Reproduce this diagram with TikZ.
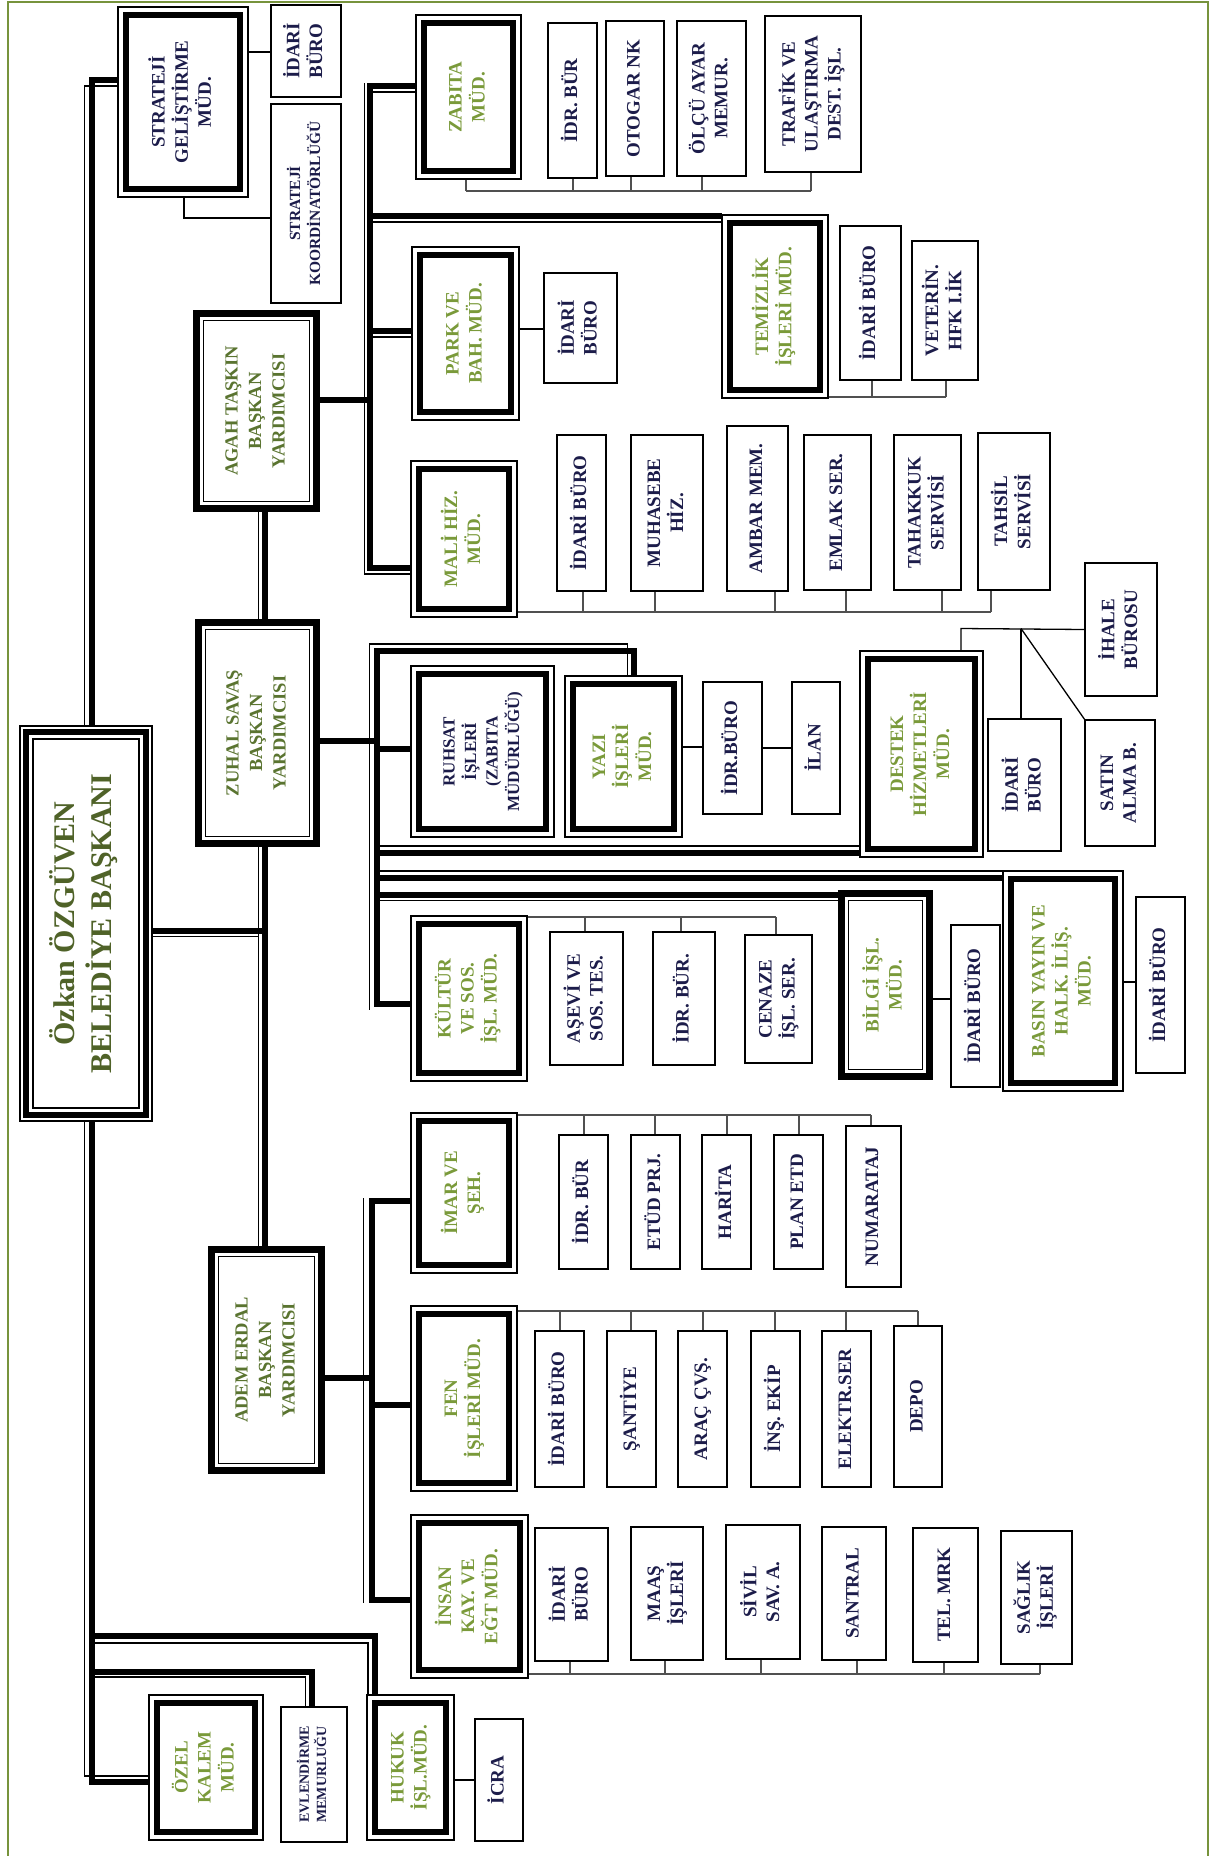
\documentclass[tikz,border=0pt]{standalone}
\usepackage{fontspec}
\setmainfont{Liberation Serif}
\usepackage{graphicx}
\definecolor{cNavy}{HTML}{1C1C4A}
\definecolor{cDir}{HTML}{7A9A3A}
\definecolor{cDep}{HTML}{5A7430}
\definecolor{cMain}{HTML}{4F6228}
\definecolor{cFrame}{HTML}{77933C}
\definecolor{cBus}{HTML}{505050}
\pgfdeclarelayer{bg}
\pgfsetlayers{bg,main}
\newcommand\rt[1]{\rotatebox{90}{\begin{tabular}{@{}c@{}}#1\end{tabular}}}
\newcommand\bx[7]{\node[#2, minimum width={#5-#3}, minimum height={#6-#4}] (#1) at (#3,#4) {\rt{#7}};}
\tikzset{
  boxbase/.style={anchor=north west, inner sep=0pt, outer sep=0pt, fill=white},
  subb/.style={boxbase, draw=black, line width=2.2pt, text=cNavy, font=\fontsize{19}{22.7}\selectfont\bfseries},
  dirb/.style={boxbase, draw=black, line width=1.3pt, text=cDir, font=\fontsize{19}{23}\selectfont\bfseries,
    path picture={\draw[black, line width=6pt] ([shift={(8pt,-8pt)}]path picture bounding box.north west) rectangle ([shift={(-8pt,8pt)}]path picture bounding box.south east);}},
  depb/.style={boxbase, text=cDep, font=\fontsize{18.5}{23.5}\selectfont\bfseries,
    path picture={\draw[black, line width=6.6pt] ([shift={(3.3pt,-3.3pt)}]path picture bounding box.north west) rectangle ([shift={(-3.3pt,3.3pt)}]path picture bounding box.south east);
      \draw[black, line width=1.3pt] ([shift={(10.5pt,-10.5pt)}]path picture bounding box.north west) rectangle ([shift={(-10.5pt,10.5pt)}]path picture bounding box.south east);}},
  mainb/.style={boxbase, draw=black, line width=1.3pt, text=cMain, font=\fontsize{30}{37}\selectfont\bfseries,
    path picture={\draw[black, line width=6pt] ([shift={(6pt,-6pt)}]path picture bounding box.north west) rectangle ([shift={(-6pt,6pt)}]path picture bounding box.south east);
      \draw[black, line width=1.3pt] ([shift={(13pt,-13pt)}]path picture bounding box.north west) rectangle ([shift={(-13pt,13pt)}]path picture bounding box.south east);}},
  thk/.style={line width=6pt, draw=black},
  thn/.style={line width=1.3pt, draw=black},
  bus/.style={line width=1.5pt, draw=cBus},
  lnk/.style={line width=1.3pt, draw=black},
  frm/.style={line width=2pt, draw=cFrame}
}
\begin{document}
\begin{tikzpicture}[x=1pt,y=-1pt]
\useasboundingbox (0,0) rectangle (1212,1856);
% ---------- top level ----------
\bx{MAIN}{mainb}{20}{726}{152}{1121}{Özkan ÖZGÜVEN\\BELEDİYE BAŞKANI}
\bx{STR}{dirb,text=cNavy}{118}{7}{248}{197}{STRATEJİ\\GELİŞTİRME\\MÜD.}
\bx{SIDA}{subb}{271}{5}{341}{97}{İDARİ\\BÜRO}
\bx{SKOO}{subb,font=\fontsize{15.5}{20}\selectfont\bfseries}{271}{104}{341}{303}{STRATEJİ\\KOORDİNATÖRLÜĞÜ}
\bx{AGAH}{depb}{193}{310}{320}{512}{AGAH TAŞKIN\\BAŞKAN\\YARDIMCISI}
\bx{ZUH}{depb}{195}{619}{320}{847}{ZUHAL SAVAŞ\\BAŞKAN\\YARDIMCISI}
\bx{ADEM}{depb}{208}{1246}{325}{1474}{ADEM ERDAL\\BAŞKAN\\YARDIMCISI}
% ---------- AGAH ----------
\bx{ZAB}{dirb}{416}{15}{521}{179}{ZABITA\\MÜD.}
\bx{ZIDR}{subb}{548}{23}{597}{178}{İDR. BÜR}
\bx{ZOTO}{subb}{606}{21}{664}{176}{OTOGAR NK}
\bx{ZOLC}{subb}{677}{21}{746}{176}{ÖLÇÜ AYAR\\MEMUR.}
\bx{ZTRA}{subb}{765}{16}{861}{172}{TRAFİK VE\\ULAŞTIRMA\\DEST. İŞL.}
\bx{PARK}{dirb}{412}{247}{519}{420}{PARK VE\\BAH. MÜD.}
\bx{PIDA}{subb}{544}{273}{617}{383}{İDARİ\\BÜRO}
\bx{TEM}{dirb}{722}{215}{828}{398}{TEMİZLİK\\İŞLERİ MÜD.}
\bx{TIDA}{subb}{840}{226}{901}{380}{İDARİ BÜRO}
\bx{TVET}{subb}{912}{241}{978}{380}{VETERİN.\\HFK I.İK}
\bx{MALI}{dirb}{411}{461}{517}{617}{MALİ HİZ.\\MÜD.}
\bx{MIDA}{subb}{557}{435}{606}{591}{İDARİ BÜRO}
\bx{MMUH}{subb}{631}{435}{703}{591}{MUHASEBE\\HİZ.}
\bx{MAMB}{subb}{727}{426}{788}{591}{AMBAR MEM.}
\bx{MEML}{subb}{804}{435}{871}{590}{EMLAK SER.}
\bx{MTAK}{subb}{894}{435}{961}{590}{TAHAKKUK\\SERVİSİ}
\bx{MTAS}{subb}{978}{433}{1050}{590}{TAHSİL\\SERVİSİ}
% ---------- ZUHAL ----------
\bx{RUH}{dirb,text=cNavy,font=\fontsize{17}{21.5}\selectfont\bfseries}{411}{666}{554}{837}{RUHSAT\\İŞLERİ\\(ZABITA\\MÜDÜRLÜĞÜ)}
\bx{YAZ}{dirb}{565}{676}{682}{837}{YAZI\\İŞLERİ\\MÜD.}
\bx{YIDR}{subb}{703}{682}{762}{814}{İDR.BÜRO}
\bx{YILN}{subb}{792}{682}{840}{814}{İLAN}
\bx{DES}{dirb}{860}{651}{983}{857}{DESTEK\\HİZMETLERİ\\MÜD.}
\bx{DIHA}{subb}{1085}{563}{1157}{696}{İHALE\\BÜROSU}
\bx{DIDA}{subb}{988}{719}{1061}{851}{İDARİ\\BÜRO}
\bx{DSAT}{subb}{1085}{720}{1155}{846}{SATIN\\ALMA B.}
\bx{BIL}{depb,text=cDir,font=\fontsize{19}{23}\selectfont\bfseries}{838}{890}{933}{1080}{BİLGİ İŞL.\\MÜD.}
\bx{BIDA}{subb}{951}{925}{1000}{1087}{İDARİ BÜRO}
\bx{BAS}{dirb}{1003}{871}{1123}{1091}{BASIN YAYIN VE\\HALK. İLİŞ.\\MÜD.}
\bx{BAID}{subb}{1136}{897}{1185}{1073}{İDARİ BÜRO}
\bx{KUL}{dirb}{411}{916}{527}{1081}{KÜLTÜR\\VE SOS.\\İŞL. MÜD.}
\bx{KASE}{subb}{550}{932}{623}{1065}{AŞEVİ VE\\SOS. TES.}
\bx{KIDR}{subb}{653}{932}{715}{1065}{İDR. BÜR.}
\bx{KCEN}{subb}{745}{935}{812}{1063}{CENAZE\\İŞL. SER.}
% ---------- ADEM ----------
\bx{IMR}{dirb}{411}{1113}{517}{1273}{İMAR VE\\ŞEH.}
\bx{IIDR}{subb}{559}{1135}{608}{1269}{İDR. BÜR}
\bx{IETU}{subb}{631}{1135}{680}{1269}{ETÜD PRJ.}
\bx{IHAR}{subb}{702}{1135}{751}{1269}{HARİTA}
\bx{IPLA}{subb}{774}{1135}{823}{1269}{PLAN ETD}
\bx{INUM}{subb}{846}{1126}{901}{1287}{NUMARATAJ}
\bx{FEN}{dirb}{411}{1306}{517}{1491}{FEN\\İŞLERİ MÜD.}
\bx{FIDA}{subb}{535}{1331}{584}{1487}{İDARİ BÜRO}
\bx{FSAN}{subb}{607}{1331}{656}{1487}{ŞANTİYE}
\bx{FARA}{subb}{678}{1331}{727}{1487}{ARAÇ ÇVŞ.}
\bx{FINS}{subb}{751}{1331}{800}{1487}{İNŞ. EKİP}
\bx{FELK}{subb}{822}{1331}{871}{1487}{ELEKTR.SER}
\bx{FDEP}{subb}{894}{1326}{942}{1487}{DEPO}
\bx{INS}{dirb}{411}{1515}{528}{1678}{İNSAN\\KAY. VE\\EĞT MÜD.}
\bx{NIDA}{subb}{535}{1528}{608}{1661}{İDARİ\\BÜRO}
\bx{NMAA}{subb}{631}{1527}{703}{1660}{MAAŞ\\İŞLERİ}
\bx{NSIV}{subb}{726}{1525}{800}{1659}{SİVİL\\SAV. A.}
\bx{NSAN}{subb}{822}{1527}{886}{1660}{SANTRAL}
\bx{NTEL}{subb}{913}{1528}{978}{1662}{TEL. MRK}
\bx{NSAG}{subb}{1001}{1531}{1072}{1664}{SAĞLIK\\İŞLERİ}
% ---------- lower left ----------
\bx{OZEL}{dirb}{149}{1695}{263}{1840}{ÖZEL\\KALEM\\MÜD.}
\bx{EVL}{subb,font=\fontsize{14}{16.5}\selectfont\bfseries}{281}{1707}{347}{1842}{EVLENDİRME\\MEMURLUĞU}
\bx{HUK}{dirb}{367}{1695}{454}{1840}{HUKUK\\İŞL.MÜD.}
\bx{ICRA}{subb}{475}{1719}{523}{1841}{İCRA}
% ---------- connectors ----------
\begin{pgfonlayer}{bg}
\fill[white] (0,0) rectangle (1212,1856);
\draw[frm] (8,1856) -- (8,1.5) -- (1208,1.5) -- (1208,1856);
% trunk
\draw[thk] (MAIN.north -| 91.5,0) -- (91.5,80) -- (STR.west |- 0,80);
\draw[thn] (MAIN.north -| 84.5,0) -- (84.5,86) -- (STR.west |- 0,86);
\draw[thk] (MAIN.south -| 91.5,0) -- (91.5,1782) -- (OZEL.west |- 0,1782);
\draw[thn] (MAIN.south -| 84.5,0) -- (84.5,1776) -- (OZEL.west |- 0,1776);
\draw[thk] (91.5,1636) -- (375,1636) -- (HUK.north -| 375,0);
\draw[thn] (95,1643) -- (368,1643) -- (HUK.north -| 368,0);
\draw[thk] (91.5,1671.5) -- (311.5,1671.5) -- (EVL.north -| 311.5,0);
\draw[thn] (95,1677) -- (305.5,1677) -- (EVL.north -| 305.5,0);
% main to deputies
\draw[thk] (MAIN.east |- 0,930.5) -- (265,930.5);
\draw[thn] (MAIN.east |- 0,936.5) -- (258.5,936.5);
\draw[thk] (AGAH.south -| 265,0) -- (ZUH.north -| 265,0);
\draw[thk] (ZUH.south -| 265,0) -- (ADEM.north -| 265,0);
\draw[thn] (AGAH.south -| 258.5,0) -- (ZUH.north -| 258.5,0);
\draw[thn] (ZUH.south -| 258.5,0) -- (ADEM.north -| 258.5,0);
% strateji
\draw[lnk] (STR.east |- 0,52) -- (SIDA.west |- 0,52);
\draw[lnk] (STR.south -| 184,0) -- (184,218) -- (SKOO.west |- 0,218);
% AGAH
\draw[thk] (AGAH.east |- 0,400) -- (369.5,400);
\draw[thk] (ZAB.west |- 0,86) -- (369.5,86) -- (369.5,568) -- (MALI.west |- 0,568);
\draw[thn] (364.5,83) -- (364.5,574) -- (MALI.west |- 0,574);
\draw[thn] (372.5,92) -- (ZAB.west |- 0,92);
\draw[thk] (369.5,215.5) -- (TEM.west |- 0,215.5);
\draw[thn] (372.5,222) -- (TEM.west |- 0,222);
\draw[thk] (369.5,331) -- (PARK.west |- 0,331);
\draw[thn] (372.5,337) -- (PARK.west |- 0,337);
\draw[lnk] (PARK.east |- 0,329) -- (PIDA.west |- 0,329);
\draw[bus] (466,191) -- (811,191);
\foreach \n/\x in {ZAB/466,ZIDR/573,ZOTO/631,ZOLC/702,ZTRA/811} \draw[bus] (\n.south -| \x,0) -- (\x,191);
\draw[bus] (TEM.east |- 0,397) -- (946,397);
\foreach \n/\x in {TIDA/872,TVET/946} \draw[bus] (\n.south -| \x,0) -- (\x,397);
\draw[bus] (MALI.east |- 0,612) -- (991,612);
\foreach \n/\x in {MIDA/583,MMUH/655,MAMB/775,MEML/846,MTAK/942,MTAS/991} \draw[bus] (\n.south -| \x,0) -- (\x,612);
% ZUHAL
\draw[thk] (ZUH.east |- 0,741) -- (376.5,741);
\draw[thk] (YAZ.north -| 634,0) -- (634,650.5) -- (376.5,650.5) -- (376.5,1004) -- (KUL.west |- 0,1004);
\draw[thn] (YAZ.north -| 627.5,0) -- (627.5,644) -- (369.5,644) -- (369.5,1010);
\draw[thk] (376.5,749) -- (RUH.west |- 0,749);
\draw[thn] (379.5,846) -- (DES.west |- 0,846);
\draw[thk] (376.5,852.5) -- (DES.west |- 0,852.5);
\draw[thn] (379.5,871) -- (BAS.north east);
\draw[thk] (376.5,877.5) -- (BAS.west |- 0,877.5);
\draw[thk] (376.5,894.5) -- (BIL.west |- 0,894.5);
\draw[thn] (379.5,900.5) -- (BIL.west |- 0,900.5);
\draw[lnk] (YAZ.east |- 0,747) -- (YIDR.west |- 0,747);
\draw[lnk] (YIDR.east |- 0,748) -- (YILN.west |- 0,748);
\coordinate (dj) at (1021,628.5);
\draw[lnk] (DES.north -| 961,0) -- (961,628.5) -- (DIHA.west |- 0,629.5);
\draw[lnk] (dj) -- (DIDA.north -| dj);
\draw[lnk] (dj) -- (DSAT.north west);
\draw[lnk] (BIL.east |- 0,999) -- (BIDA.west |- 0,999);
\draw[lnk] (BAS.east |- 0,982) -- (BAID.west |- 0,982);
\draw[bus] (KUL.east |- 0,917) -- (776,917);
\foreach \n/\x in {KASE/585,KIDR/681,KCEN/776} \draw[bus] (\n.north -| \x,0) -- (\x,917);
% ADEM
\draw[thk] (ADEM.east |- 0,1378) -- (371.5,1378);
\draw[thk] (IMR.west |- 0,1201) -- (371.5,1201) -- (371.5,1600) -- (INS.west |- 0,1600);
\draw[thn] (363.5,1198) -- (363.5,1603);
\draw[thk] (371.5,1404.5) -- (FEN.west |- 0,1404.5);
\draw[bus] (IMR.east |- 0,1115) -- (871,1115);
\foreach \n/\x in {IIDR/584,IETU/655,IHAR/727,IPLA/799,INUM/871} \draw[bus] (\n.north -| \x,0) -- (\x,1115);
\draw[bus] (FEN.east |- 0,1311) -- (918,1311);
\foreach \n/\x in {FIDA/560,FSAN/631,FARA/703,FINS/775,FELK/846,FDEP/918} \draw[bus] (\n.north -| \x,0) -- (\x,1311);
\draw[bus] (INS.east |- 0,1674) -- (1040,1674);
\foreach \n/\x in {NIDA/570,NMAA/665,NSIV/761,NSAN/857,NTEL/944,NSAG/1040} \draw[bus] (\n.south -| \x,0) -- (\x,1674);
% lower left
\draw[lnk] (HUK.east |- 0,1780) -- (ICRA.west |- 0,1780);
\end{pgfonlayer}
\end{tikzpicture}
\end{document}
